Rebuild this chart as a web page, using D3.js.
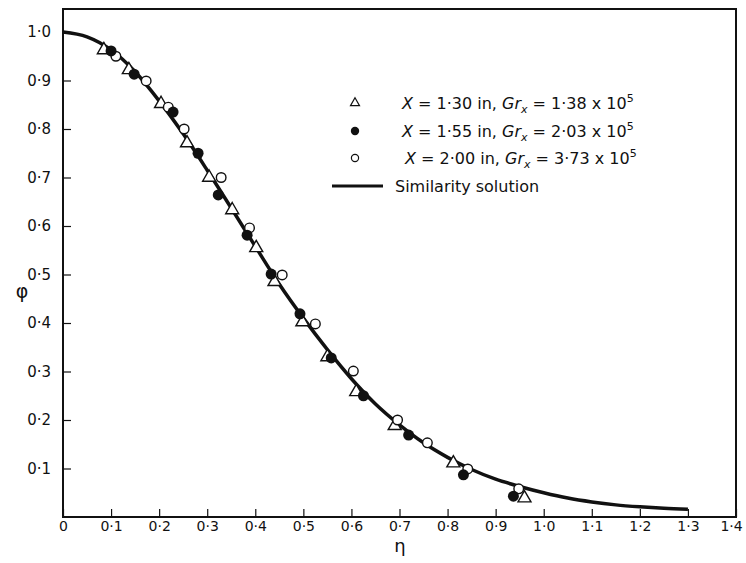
<!DOCTYPE html>
<html>
<head>
<meta charset="utf-8">
<script src="https://cdn.jsdelivr.net/npm/d3@7"></script>
<style>
  body { margin: 0; background: #fff; }
  text { font-family: "DejaVu Sans", sans-serif; fill: #111; }
</style>
</head>
<body>
<div id="chart"></div>
<script>
// similarity solution curve
const curveEta = [0, 0.05, 0.1, 0.15, 0.2, 0.25, 0.3, 0.35, 0.4, 0.45, 0.5, 0.55, 0.6, 0.65, 0.7, 0.75, 0.8, 0.85, 0.9, 0.95, 1.0, 1.05, 1.1, 1.15, 1.2, 1.25, 1.3];
const curvePhi = [1.0, 0.99, 0.963, 0.918, 0.858, 0.79, 0.715, 0.637, 0.558, 0.48, 0.41, 0.345, 0.285, 0.233, 0.19, 0.153, 0.123, 0.098, 0.078, 0.063, 0.05, 0.039, 0.031, 0.025, 0.021, 0.018, 0.016];

// X = 1.30 in (triangles)
const triEta = [0.085, 0.137, 0.204, 0.258, 0.304, 0.352, 0.402, 0.44, 0.498, 0.55, 0.61, 0.69, 0.812, 0.96];
const triPhi = [0.963, 0.922, 0.852, 0.771, 0.70, 0.633, 0.555, 0.485, 0.402, 0.33, 0.258, 0.188, 0.111, 0.039];

// X = 1.55 in (filled circles)
const fillEta = [0.1, 0.148, 0.229, 0.281, 0.323, 0.383, 0.433, 0.493, 0.558, 0.625, 0.719, 0.833, 0.937];
const fillPhi = [0.961, 0.913, 0.835, 0.75, 0.664, 0.581, 0.501, 0.419, 0.328, 0.25, 0.169, 0.087, 0.043];

// X = 2.00 in (open circles)
const openEta = [0.11, 0.173, 0.219, 0.252, 0.329, 0.388, 0.456, 0.525, 0.604, 0.696, 0.758, 0.842, 0.948];
const openPhi = [0.95, 0.899, 0.845, 0.80, 0.70, 0.596, 0.499, 0.398, 0.301, 0.20, 0.153, 0.099, 0.058];

const xTicks = [0, 0.1, 0.2, 0.3, 0.4, 0.5, 0.6, 0.7, 0.8, 0.9, 1.0, 1.1, 1.2, 1.3, 1.4];
const yTicks = [0.1, 0.2, 0.3, 0.4, 0.5, 0.6, 0.7, 0.8, 0.9, 1.0];

const width = 746, height = 563;
const margin = { top: 9, right: 736, bottom: 517, left: 63 };

const fmt = d => d === 0 ? '0' : d.toFixed(1).replace('.', '·');

const x = d3.scaleLinear().domain([0, 1.4]).range([margin.left, margin.right]);
const y = d3.scaleLinear().domain([0, 1.0]).range([margin.bottom, 32]);

const svg = d3.select('#chart').append('svg')
    .attr('width', width)
    .attr('height', height);

// frame
svg.append('rect')
    .attr('x', margin.left).attr('y', margin.top)
    .attr('width', margin.right - margin.left).attr('height', margin.bottom - margin.top)
    .attr('fill', 'none').attr('stroke', '#111').attr('stroke-width', 2);

// x axis (ticks inward)
const xAxis = g => g
    .attr('transform', `translate(0,${margin.bottom})`)
    .call(d3.axisBottom(x).tickValues(xTicks).tickSize(-8).tickPadding(4).tickFormat(fmt))
    .call(g => g.select('.domain').remove())
    .call(g => g.selectAll('.tick line').attr('stroke', '#111').attr('stroke-width', 1.2))
    .call(g => g.selectAll('.tick text').attr('font-size', 14).attr('fill', '#111'))
    .call(g => g.selectAll('.tick text').filter(d => d === 1.4).attr('dx', -5));

const yAxis = g => g
    .attr('transform', `translate(${margin.left},0)`)
    .call(d3.axisLeft(y).tickValues(yTicks).tickSize(-8).tickPadding(12).tickFormat(fmt))
    .call(g => g.select('.domain').remove())
    .call(g => g.selectAll('.tick line').attr('stroke', '#111').attr('stroke-width', 1.2))
    .call(g => g.selectAll('.tick text').attr('font-size', 15).attr('fill', '#111'));

svg.append('g').call(xAxis);
svg.append('g').call(yAxis);

// axis titles
svg.append('text')
    .attr('x', 400).attr('y', 552)
    .attr('text-anchor', 'middle')
    .attr('font-size', 18)
    .text('η');

svg.append('text')
    .attr('x', 22).attr('y', 298)
    .attr('text-anchor', 'middle')
    .attr('font-size', 19)
    .text('φ');

// similarity curve
const line = d3.line()
    .x(d => x(d[0]))
    .y(d => y(d[1]))
    .curve(d3.curveMonotoneX);

svg.append('path')
    .datum(curveEta.map((e, i) => [e, curvePhi[i]]))
    .attr('fill', 'none')
    .attr('stroke', '#111')
    .attr('stroke-width', 3.5)
    .attr('d', line);

const triPath = s => {
    const h = s * Math.sqrt(3) / 2;
    return `M0,${-h * 2 / 3}L${s / 2},${h / 3}L${-s / 2},${h / 3}Z`;
};

// triangles
svg.append('g')
    .selectAll('path')
    .data(triEta.map((e, i) => [e, triPhi[i]]))
    .join('path')
    .attr('transform', d => `translate(${x(d[0])},${y(d[1])})`)
    .attr('d', triPath(13))
    .attr('fill', '#fff')
    .attr('stroke', '#111')
    .attr('stroke-width', 1.4);

// open circles
svg.append('g')
    .selectAll('circle')
    .data(openEta.map((e, i) => [e, openPhi[i]]))
    .join('circle')
    .attr('cx', d => x(d[0]))
    .attr('cy', d => y(d[1]))
    .attr('r', 4.8)
    .attr('fill', '#fff')
    .attr('stroke', '#111')
    .attr('stroke-width', 1.4);

// filled circles
svg.append('g')
    .selectAll('circle')
    .data(fillEta.map((e, i) => [e, fillPhi[i]]))
    .join('circle')
    .attr('cx', d => x(d[0]))
    .attr('cy', d => y(d[1]))
    .attr('r', 5.5)
    .attr('fill', '#111');

// legend
const legend = svg.append('g');
const rows = [
    { y: 103, x: 402, xv: '1·30', gr: '1·38' },
    { y: 131, x: 402, xv: '1·55', gr: '2·03' },
    { y: 158, x: 405, xv: '2·00', gr: '3·73' }
];

legend.append('path')
    .attr('transform', `translate(355,${rows[0].y})`)
    .attr('d', triPath(9))
    .attr('fill', '#fff').attr('stroke', '#111').attr('stroke-width', 1.2);
legend.append('circle')
    .attr('cx', 355).attr('cy', rows[1].y).attr('r', 4.2).attr('fill', '#111');
legend.append('circle')
    .attr('cx', 355).attr('cy', rows[2].y).attr('r', 3.6)
    .attr('fill', '#fff').attr('stroke', '#111').attr('stroke-width', 1.2);

rows.forEach(r => {
    const t = legend.append('text')
        .attr('x', r.x).attr('y', r.y + 6)
        .attr('font-size', 16);
    t.append('tspan').attr('font-style', 'italic').text('X');
    t.append('tspan').text(' = ' + r.xv + ' in, ');
    t.append('tspan').attr('font-style', 'italic').text('Gr');
    t.append('tspan').attr('font-style', 'italic').attr('font-size', 11).attr('dy', 4).text('x');
    t.append('tspan').attr('dy', -4).text(' = ' + r.gr + ' x 10');
    t.append('tspan').attr('font-size', 11).attr('dy', -7).text('5');
});

legend.append('line')
    .attr('x1', 332).attr('x2', 383)
    .attr('y1', 186).attr('y2', 186)
    .attr('stroke', '#111').attr('stroke-width', 3);
legend.append('text')
    .attr('x', 395).attr('y', 192)
    .attr('font-size', 16)
    .text('Similarity  solution');
</script>
</body>
</html>
